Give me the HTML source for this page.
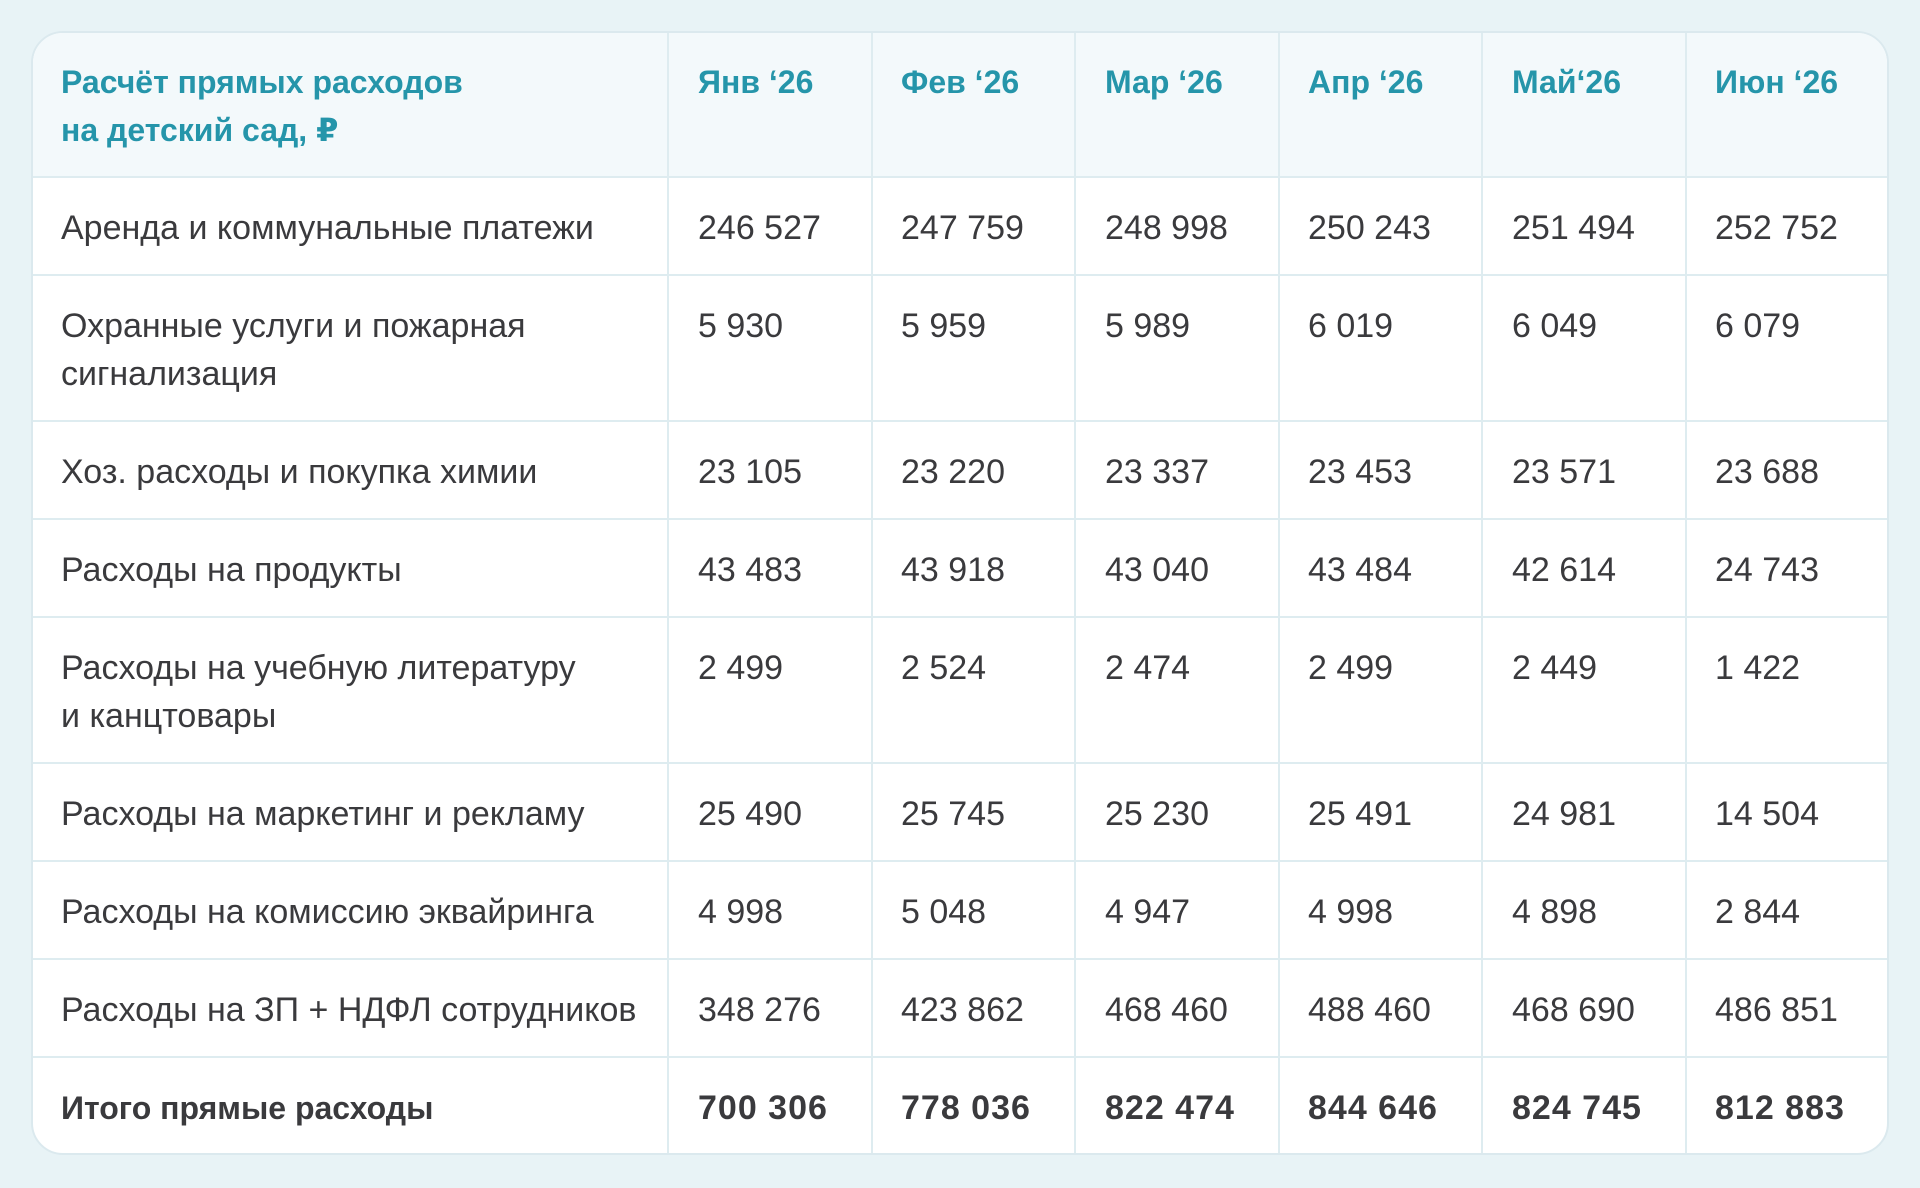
<!DOCTYPE html>
<html><head><meta charset="utf-8">
<style>
html,body{margin:0;padding:0;}
body{width:1920px;height:1188px;background:#e8f3f6;position:relative;overflow:hidden;font-family:"Liberation Sans","DejaVu Sans",sans-serif;}
.card{position:absolute;left:31px;top:31px;width:1858px;height:1124px;box-sizing:border-box;border:2px solid #dbe9ee;border-radius:32px;background:#fff;overflow:hidden;}
.hb{position:absolute;left:0;top:0;width:100%;height:144px;background:#f3f9fb;}
.h{position:absolute;left:0;width:100%;height:2px;background:#deecf0;}
.v{position:absolute;top:0;width:2px;height:100%;background:#deecf0;}
.t{position:absolute;line-height:48px;white-space:nowrap;}
.hd{font-size:32px;font-weight:bold;color:#2595aa;}
.bd{font-size:34px;color:#3a3a3d;}
.tl{font-size:32px;font-weight:bold;color:#3a3a3d;}
.tn{font-size:34px;font-weight:bold;color:#3a3a3d;letter-spacing:1px;}
</style></head><body>
<div class="card">
<div class="hb"></div>
<div class="h" style="top:143px"></div>
<div class="h" style="top:241px"></div>
<div class="h" style="top:387px"></div>
<div class="h" style="top:485px"></div>
<div class="h" style="top:583px"></div>
<div class="h" style="top:729px"></div>
<div class="h" style="top:827px"></div>
<div class="h" style="top:925px"></div>
<div class="h" style="top:1023px"></div>
<div class="v" style="left:634px"></div>
<div class="v" style="left:838px"></div>
<div class="v" style="left:1041px"></div>
<div class="v" style="left:1245px"></div>
<div class="v" style="left:1448px"></div>
<div class="v" style="left:1652px"></div>

<div class="t hd" style="left:28px;top:25px">Расчёт прямых расходов<br>на детский сад, ₽</div>
<div class="t hd" style="left:665px;top:25px">Янв ‘26</div>
<div class="t hd" style="left:868px;top:25px">Фев ‘26</div>
<div class="t hd" style="left:1072px;top:25px">Мар ‘26</div>
<div class="t hd" style="left:1275px;top:25px">Апр ‘26</div>
<div class="t hd" style="left:1479px;top:25px">Май‘26</div>
<div class="t hd" style="left:1682px;top:25px">Июн ‘26</div>

<div class="t bd" style="left:28px;top:171px">Аренда и коммунальные платежи</div>
<div class="t bd" style="left:665px;top:171px">246 527</div>
<div class="t bd" style="left:868px;top:171px">247 759</div>
<div class="t bd" style="left:1072px;top:171px">248 998</div>
<div class="t bd" style="left:1275px;top:171px">250 243</div>
<div class="t bd" style="left:1479px;top:171px">251 494</div>
<div class="t bd" style="left:1682px;top:171px">252 752</div>

<div class="t bd" style="left:28px;top:269px">Охранные услуги и пожарная<br>сигнализация</div>
<div class="t bd" style="left:665px;top:269px">5 930</div>
<div class="t bd" style="left:868px;top:269px">5 959</div>
<div class="t bd" style="left:1072px;top:269px">5 989</div>
<div class="t bd" style="left:1275px;top:269px">6 019</div>
<div class="t bd" style="left:1479px;top:269px">6 049</div>
<div class="t bd" style="left:1682px;top:269px">6 079</div>

<div class="t bd" style="left:28px;top:415px">Хоз. расходы и покупка химии</div>
<div class="t bd" style="left:665px;top:415px">23 105</div>
<div class="t bd" style="left:868px;top:415px">23 220</div>
<div class="t bd" style="left:1072px;top:415px">23 337</div>
<div class="t bd" style="left:1275px;top:415px">23 453</div>
<div class="t bd" style="left:1479px;top:415px">23 571</div>
<div class="t bd" style="left:1682px;top:415px">23 688</div>

<div class="t bd" style="left:28px;top:513px">Расходы на продукты</div>
<div class="t bd" style="left:665px;top:513px">43 483</div>
<div class="t bd" style="left:868px;top:513px">43 918</div>
<div class="t bd" style="left:1072px;top:513px">43 040</div>
<div class="t bd" style="left:1275px;top:513px">43 484</div>
<div class="t bd" style="left:1479px;top:513px">42 614</div>
<div class="t bd" style="left:1682px;top:513px">24 743</div>

<div class="t bd" style="left:28px;top:611px">Расходы на учебную литературу<br>и канцтовары</div>
<div class="t bd" style="left:665px;top:611px">2 499</div>
<div class="t bd" style="left:868px;top:611px">2 524</div>
<div class="t bd" style="left:1072px;top:611px">2 474</div>
<div class="t bd" style="left:1275px;top:611px">2 499</div>
<div class="t bd" style="left:1479px;top:611px">2 449</div>
<div class="t bd" style="left:1682px;top:611px">1 422</div>

<div class="t bd" style="left:28px;top:757px">Расходы на маркетинг и рекламу</div>
<div class="t bd" style="left:665px;top:757px">25 490</div>
<div class="t bd" style="left:868px;top:757px">25 745</div>
<div class="t bd" style="left:1072px;top:757px">25 230</div>
<div class="t bd" style="left:1275px;top:757px">25 491</div>
<div class="t bd" style="left:1479px;top:757px">24 981</div>
<div class="t bd" style="left:1682px;top:757px">14 504</div>

<div class="t bd" style="left:28px;top:855px">Расходы на комиссию эквайринга</div>
<div class="t bd" style="left:665px;top:855px">4 998</div>
<div class="t bd" style="left:868px;top:855px">5 048</div>
<div class="t bd" style="left:1072px;top:855px">4 947</div>
<div class="t bd" style="left:1275px;top:855px">4 998</div>
<div class="t bd" style="left:1479px;top:855px">4 898</div>
<div class="t bd" style="left:1682px;top:855px">2 844</div>

<div class="t bd" style="left:28px;top:953px">Расходы на ЗП + НДФЛ сотрудников</div>
<div class="t bd" style="left:665px;top:953px">348 276</div>
<div class="t bd" style="left:868px;top:953px">423 862</div>
<div class="t bd" style="left:1072px;top:953px">468 460</div>
<div class="t bd" style="left:1275px;top:953px">488 460</div>
<div class="t bd" style="left:1479px;top:953px">468 690</div>
<div class="t bd" style="left:1682px;top:953px">486 851</div>

<div class="t tl" style="left:28px;top:1051px">Итого прямые расходы</div>
<div class="t tn" style="left:665px;top:1051px">700 306</div>
<div class="t tn" style="left:868px;top:1051px">778 036</div>
<div class="t tn" style="left:1072px;top:1051px">822 474</div>
<div class="t tn" style="left:1275px;top:1051px">844 646</div>
<div class="t tn" style="left:1479px;top:1051px">824 745</div>
<div class="t tn" style="left:1682px;top:1051px">812 883</div>
</div>
</body></html>
